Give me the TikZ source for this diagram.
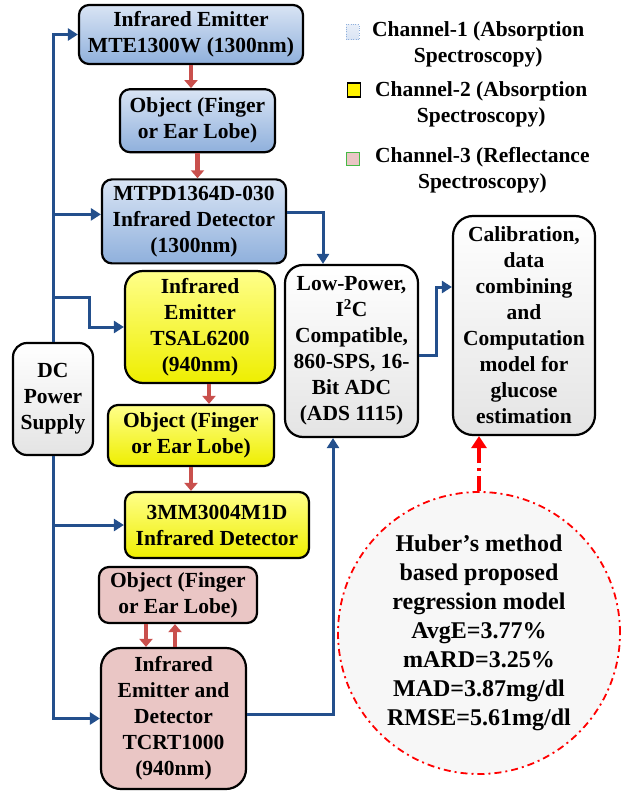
\documentclass[tikz,border=0pt]{standalone}
\usepackage{fontspec}
\setmainfont{Liberation Serif}
\usetikzlibrary{positioning,arrows.meta}

\definecolor{chonetop}{HTML}{D9E4F4}
\definecolor{chonebot}{HTML}{8FB0DC}
\definecolor{chtwotop}{HTML}{FFFF8A}
\definecolor{chtwobot}{HTML}{EEEE00}
\definecolor{chthree}{HTML}{EAC6C5}
\definecolor{greybot}{HTML}{E4E4E4}
\definecolor{busblue}{HTML}{234F8C}
\definecolor{flowred}{HTML}{C9504D}
\definecolor{circfill}{HTML}{F7F7F7}

\newcommand\blkfont{\fontsize{21.5}{26}\selectfont\bfseries}
\newcommand\circfont{\fontsize{24}{29}\selectfont\bfseries}

\begin{document}
\begin{tikzpicture}[x=1pt,y=-1pt,
    blk/.style={draw, line width=2.2pt, rounded corners=10pt, align=center, inner sep=0pt, font=\blkfont},
    chone/.style={blk, top color=chonetop, bottom color=chonebot},
    chtwo/.style={blk, top color=chtwotop, bottom color=chtwobot},
    chthr/.style={blk, fill=chthree},
    grey/.style={blk, rounded corners=18pt, top color=white, bottom color=greybot},
    legtext/.style={align=center, inner sep=0pt, font=\blkfont},
    bus/.style={draw=busblue, line width=3pt, -{Triangle[width=12pt,length=10pt]}},
    flow/.style={draw=flowred, line width=4.5pt, -{Triangle[width=13pt,length=8pt]}},
    hint/.style={draw=red, line width=3.5pt, dash pattern=on 15pt off 5pt on 3pt off 5pt, -{Triangle[width=15pt,length=12pt]}}]
  \useasboundingbox (0,0) rectangle (621,791);

  % channel 1
  \node[chone, minimum width=224pt, minimum height=59pt] (emit1) at (191,34.5) {Infrared Emitter\\MTE1300W (1300nm)};
  \node[chone, minimum width=155pt, minimum height=63pt] (obj1) [below=23pt of emit1, xshift=6.5pt] {Object (Finger\\or Ear Lobe)};
  \node[chone, minimum width=184pt, minimum height=84pt] (det1) [below=25pt of obj1, xshift=-3.5pt] {MTPD1364D-030\\Infrared Detector\\(1300nm)};

  % channel 2
  \node[chtwo, rounded corners=18pt, minimum width=150pt, minimum height=112pt] (emit2) at (200,327) {Infrared\\Emitter\\TSAL6200\\(940nm)};
  \node[chtwo, minimum width=166pt, minimum height=61pt] (obj2) at (191,435.5) {Object (Finger\\or Ear Lobe)};
  \node[chtwo, minimum width=184pt, minimum height=66pt] (det2) at (217,525) {3MM3004M1D\\Infrared Detector};

  % channel 3
  \node[chthr, minimum width=158pt, minimum height=56pt] (obj3) at (178,595) {Object (Finger\\or Ear Lobe)};
  \node[chthr, rounded corners=20pt, minimum width=145pt, minimum height=141pt] (emit3) at (173.5,718.5) {Infrared\\Emitter and\\Detector\\TCRT1000\\(940nm)};

  \node[grey, rounded corners=14pt, minimum width=80pt, minimum height=112pt] (dc) at (53,399) {DC\\Power\\Supply};
  \node[grey, minimum width=133pt, minimum height=172pt] (adc) at (351.5,351) {Low-Power,\\I\textsuperscript{2}C\\Compatible,\\860-SPS, 16-\\Bit ADC\\(ADS 1115)};
  \node[grey, rounded corners=20pt, minimum width=142pt, minimum height=219pt] (calib) at (524,325.5) {Calibration,\\data\\combining\\and\\Computation\\model for\\glucose\\estimation};

  \node[circle, draw=red, line width=1.8pt, dash pattern=on 7pt off 4pt on 2pt off 4pt, fill=circfill, minimum size=282pt, inner sep=0pt, align=center, font=\circfont] (circ) at (479,633) {Huber’s method\\based proposed\\regression model\\AvgE=3.77\%\\mARD=3.25\%\\MAD=3.87mg/dl\\RMSE=5.61mg/dl};

  % legend
  \node[draw=chonebot, dotted, top color=chonetop!60!white, bottom color=chonetop, minimum width=13pt, minimum height=15pt, inner sep=0pt] (lg1) at (352.5,32) {};
  \node[draw, line width=1.2pt, fill=yellow, minimum width=13pt, minimum height=14pt, inner sep=0pt] (lg2) at (354,90) {};
  \node[draw=green!45!gray, line width=0.8pt, fill=chthree, minimum width=13pt, minimum height=13pt, inner sep=0pt] (lg3) at (353,158.5) {};
  \node[legtext, anchor=north west] (lt1) at (372,21) {Channel-1 (Absorption\\Spectroscopy)};
  \node[legtext, anchor=north west] (lt2) at (375,81) {Channel-2 (Absorption\\Spectroscopy)};
  \node[legtext, anchor=north west] (lt3) at (375,147) {Channel-3 (Reflectance\\Spectroscopy)};

  % optical path
  \draw[flow] (emit1.south) -- (emit1.south |- obj1.north);
  \draw[flow] (obj1.south) -- (obj1.south |- det1.north);
  \draw[flow] ([xshift=9pt]emit2.south) -- ([xshift=9pt]emit2.south |- obj2.north);
  \draw[flow] (obj2.south) -- (obj2.south |- det2.north);
  \draw[flow] ([xshift=-32pt]obj3.south) -- ([xshift=-32pt]obj3.south |- emit3.north);
  \draw[flow] ([xshift=1.5pt]emit3.north) -- ([xshift=1.5pt]emit3.north |- obj3.south);

  % supply lines
  \coordinate (tap2) at (53,297);
  \draw[bus] (dc.north) |- (emit1.west);
  \draw[bus] (dc.north) |- ([yshift=7pt]det1.west);
  \draw[bus] (tap2) -- ++(36,0) |- (emit2.west);
  \draw[bus] (dc.south) |- (det2.west);
  \draw[bus] (dc.south) |- (emit3.west);

  % signal lines
  \draw[bus] ([yshift=9pt]det1.east) -| ([xshift=-28.5pt]adc.north);
  \draw[bus] ([yshift=4.5pt]emit3.east) -| ([xshift=-18.5pt]adc.south);
  \draw[bus] ([yshift=-4pt]adc.east) -- ++(17,0) |- ([yshift=38.5pt]calib.west);
  \draw[hint] (circ.north) -- (circ.north |- calib.south);
\end{tikzpicture}
\end{document}
